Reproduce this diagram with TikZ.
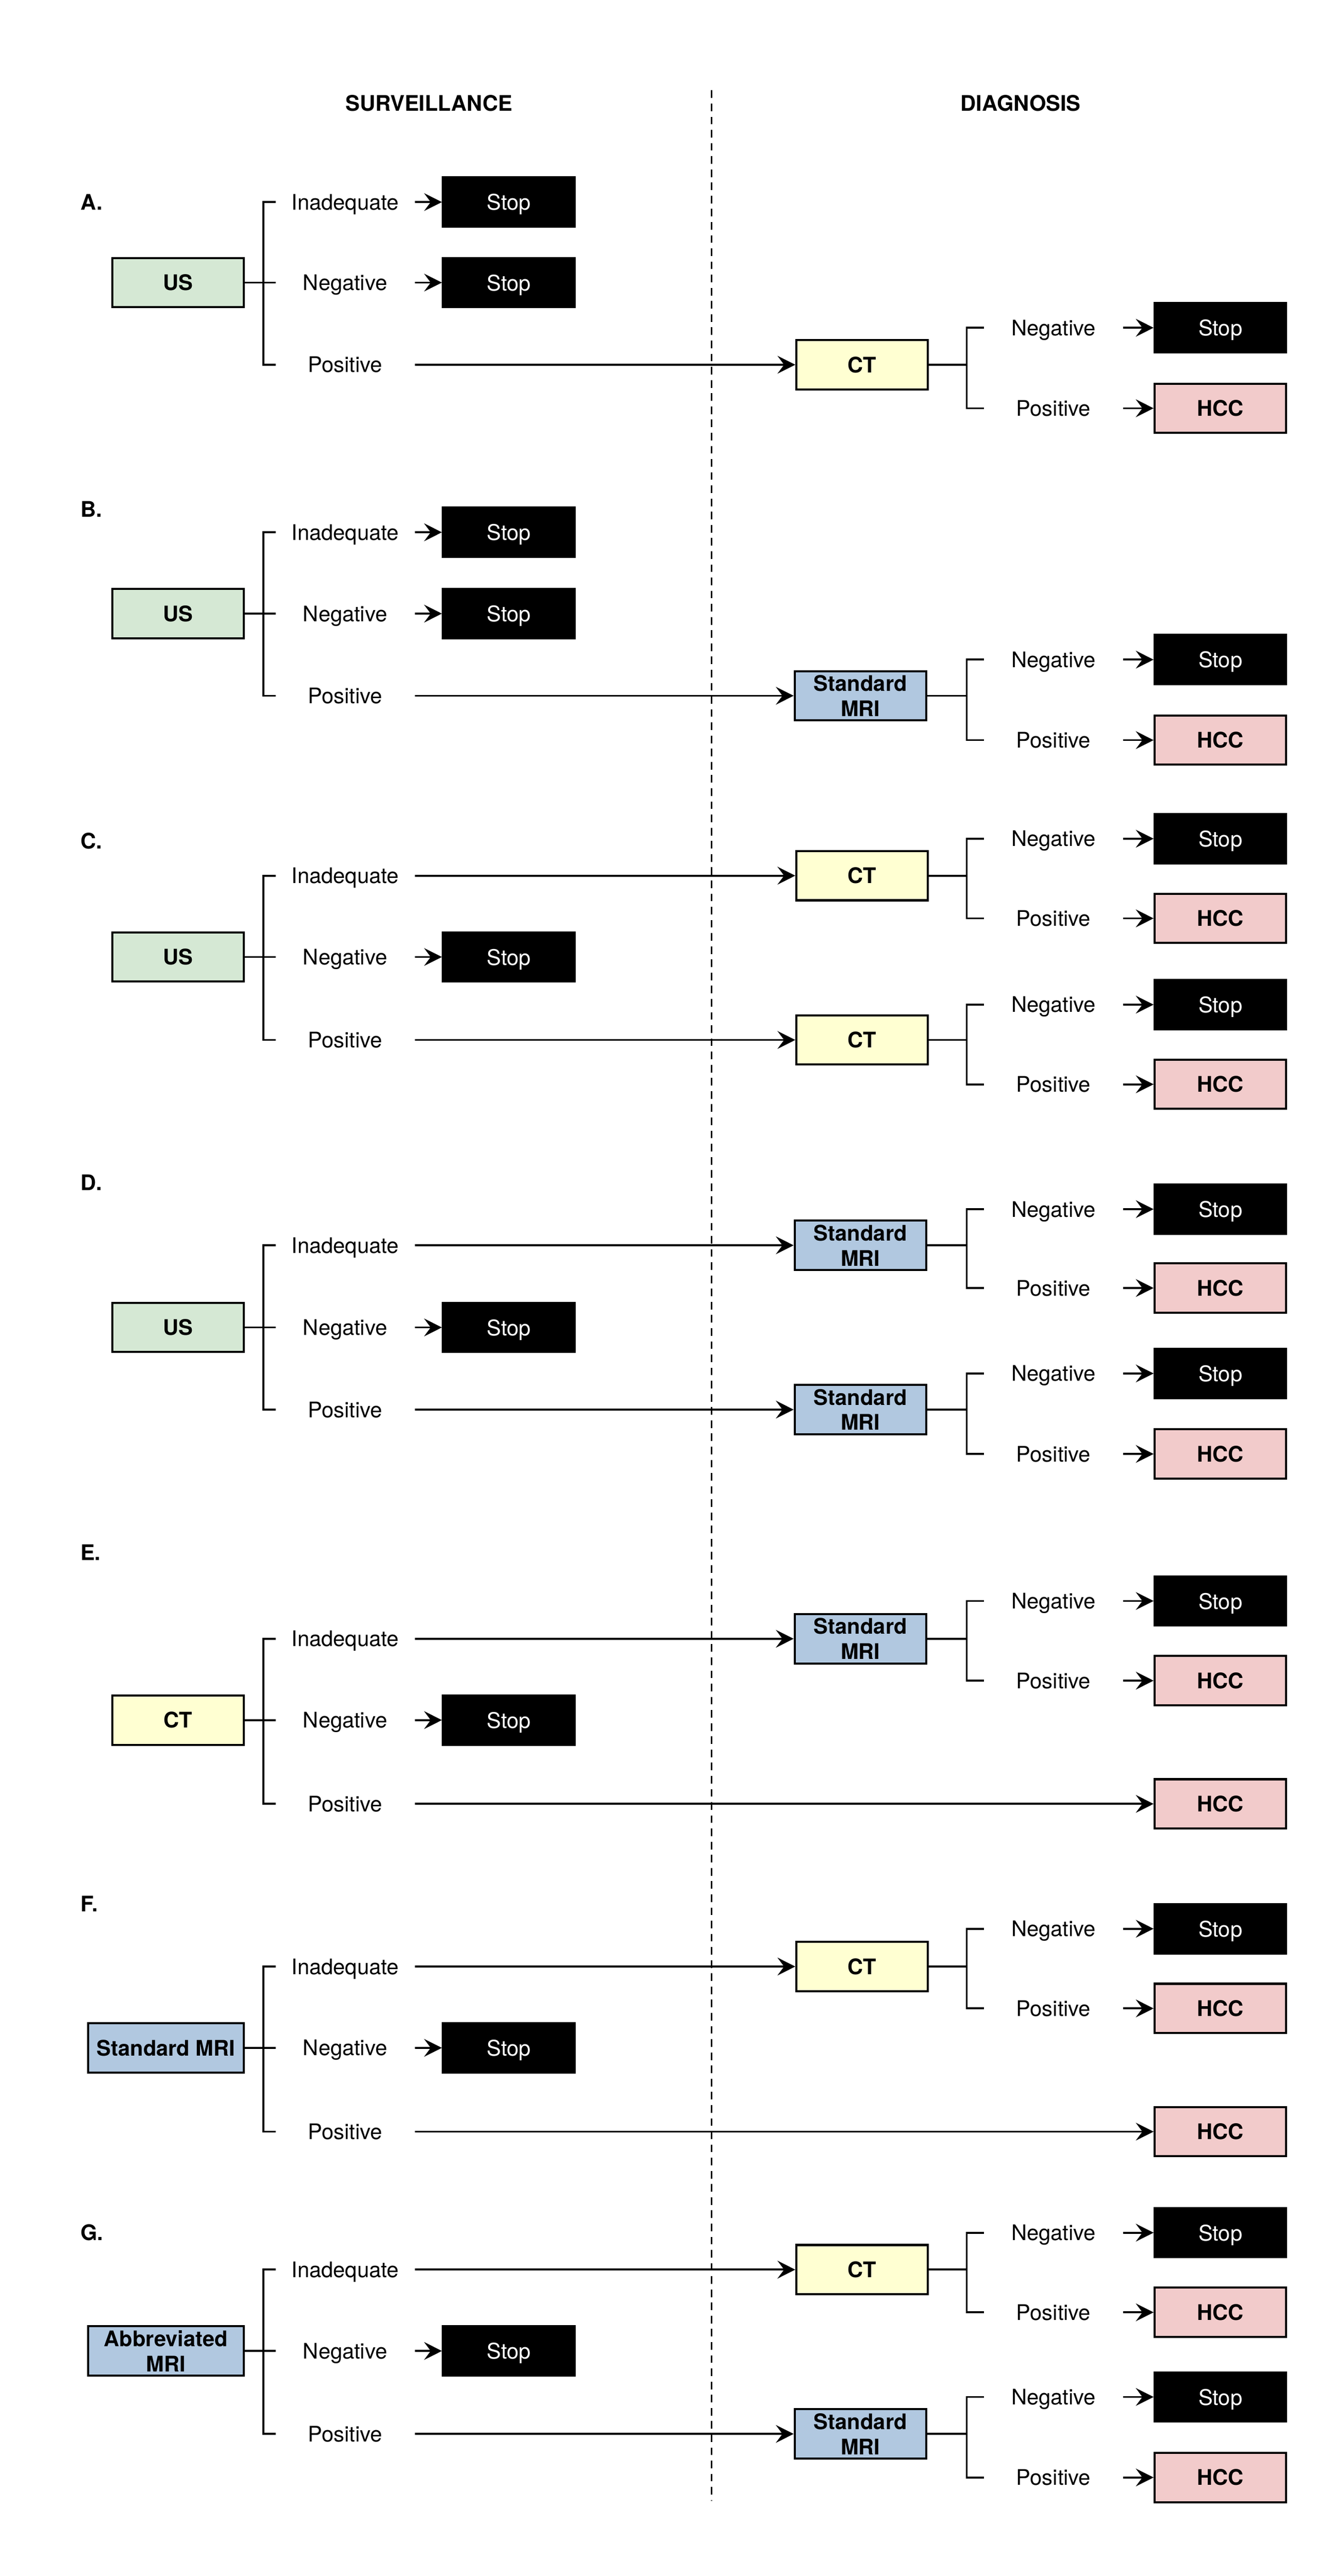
\documentclass[tikz,border=0pt]{standalone}
\usepackage{fontspec}
\setmainfont{TeX Gyre Heros}
\usetikzlibrary{arrows.meta, positioning}
\definecolor{usgreen}{HTML}{D5E8D4}
\definecolor{ctyellow}{HTML}{FFFFD2}
\definecolor{mriblue}{HTML}{B1C8E0}
\definecolor{hccpink}{HTML}{F2CBCB}
\newcommand{\figfont}{\fontsize{9.3}{10.9}\selectfont}

\begin{document}
\begin{tikzpicture}[x=0.025cm, y=-0.025cm, font=\figfont,
    box/.style={draw, line width=0.9pt, minimum width=2cm, minimum height=0.75cm, inner sep=1pt, align=center, font=\figfont\bfseries},
    usbox/.style={box, fill=usgreen, anchor=east},
    ctbox/.style={box, fill=ctyellow},
    mribox/.style={box, fill=mriblue},
    widebox/.style={minimum width=2.37cm, anchor=east},
    stopbox/.style={box, fill=black, text=white, font=\figfont, text depth=0pt},
    hccbox/.style={box, fill=hccpink},
    lbl/.style={minimum width=2.1cm, inner sep=0pt, text height=6.7pt, text depth=0pt},
    head/.style={font=\figfont\bfseries, text height=6.7pt, text depth=0pt},
    arr/.style={-{Stealth[length=2.7mm, width=2.7mm, inset=1mm]}, line width=0.85pt},
    conn/.style={line width=0.85pt}]

    \useasboundingbox (0,0) rectangle (812,1568);

    \node[head] (surv) at (261,63) {SURVEILLANCE};
    \node[head] (diag) at (621,63) {DIAGNOSIS};
    \coordinate (divtop) at (433,55);
    \coordinate (divbot) at (433,1522);
    \draw[line width=0.6pt, dash pattern=on 3.3pt off 2.4pt] (divtop) -- (divbot);

    % A
    \node[head, anchor=west] (tagA) at (44,123) {A.};
    \node[usbox] (usA) at (149,172) {US};
    \node[lbl] (inadA) at (210,123) {Inadequate};
    \node[lbl] (negA) at (210,172) {Negative};
    \node[lbl] (posA) at (210,222) {Positive};
    \node[stopbox] (stopA1) at (309.5,123) {Stop};
    \node[stopbox] (stopA2) at (309.5,172) {Stop};
    \node[ctbox] (ctA) at (524.5,222) {CT};
    \node[lbl] (dnegA) at (641,199.5) {Negative};
    \node[lbl] (dposA) at (641,248.5) {Positive};
    \node[stopbox] (dstopA) at (742.5,199.5) {Stop};
    \node[hccbox] (hccA) at (742.5,248.5) {HCC};
    \draw[conn] (usA) -- (negA);
    \draw[conn] (inadA.west) -- ++(-7.5,0) |- (posA.west);
    \draw[arr] (inadA) -- (stopA1);
    \draw[arr] (negA) -- (stopA2);
    \draw[arr] (posA) -- (ctA);
    \draw[conn] (ctA.east) -- ++(23,0) |- (dnegA.west) (ctA.east) ++(23,0) |- (dposA.west);
    \draw[arr] (dnegA) -- (dstopA);
    \draw[arr] (dposA) -- (hccA);

    % B
    \node[head, anchor=west] (tagB) at (44,310) {B.};
    \node[usbox] (usB) at (149,373.5) {US};
    \node[lbl] (inadB) at (210,324) {Inadequate};
    \node[lbl] (negB) at (210,373.5) {Negative};
    \node[lbl] (posB) at (210,423.5) {Positive};
    \node[stopbox] (stopB1) at (309.5,324) {Stop};
    \node[stopbox] (stopB2) at (309.5,373.5) {Stop};
    \node[mribox] (mriB) at (523.5,423.5) {Standard\\MRI};
    \node[lbl] (dnegB) at (641,401.5) {Negative};
    \node[lbl] (dposB) at (641,450.5) {Positive};
    \node[stopbox] (dstopB) at (742.5,401.5) {Stop};
    \node[hccbox] (hccB) at (742.5,450.5) {HCC};
    \draw[conn] (usB) -- (negB);
    \draw[conn] (inadB.west) -- ++(-7.5,0) |- (posB.west);
    \draw[arr] (inadB) -- (stopB1);
    \draw[arr] (negB) -- (stopB2);
    \draw[arr] (posB) -- (mriB);
    \draw[conn] (mriB.east) -- ++(24,0) |- (dnegB.west) (mriB.east) ++(24,0) |- (dposB.west);
    \draw[arr] (dnegB) -- (dstopB);
    \draw[arr] (dposB) -- (hccB);

    % C
    \node[head, anchor=west] (tagC) at (44,512) {C.};
    \node[usbox] (usC) at (149,582.5) {US};
    \node[lbl] (inadC) at (210,533) {Inadequate};
    \node[lbl] (negC) at (210,582.5) {Negative};
    \node[lbl] (posC) at (210,633) {Positive};
    \node[stopbox] (stopC) at (309.5,582.5) {Stop};
    \node[ctbox] (ctC1) at (524.5,533) {CT};
    \node[lbl] (dnegC1) at (641,510.5) {Negative};
    \node[lbl] (dposC1) at (641,559) {Positive};
    \node[stopbox] (dstopC1) at (742.5,510.5) {Stop};
    \node[hccbox] (hccC1) at (742.5,559) {HCC};
    \node[ctbox] (ctC2) at (524.5,633) {CT};
    \node[lbl] (dnegC2) at (641,611.5) {Negative};
    \node[lbl] (dposC2) at (641,660) {Positive};
    \node[stopbox] (dstopC2) at (742.5,611.5) {Stop};
    \node[hccbox] (hccC2) at (742.5,660) {HCC};
    \draw[conn] (usC) -- (negC);
    \draw[conn] (inadC.west) -- ++(-7.5,0) |- (posC.west);
    \draw[arr] (inadC) -- (ctC1);
    \draw[arr] (negC) -- (stopC);
    \draw[arr] (posC) -- (ctC2);
    \draw[conn] (ctC1.east) -- ++(23,0) |- (dnegC1.west) (ctC1.east) ++(23,0) |- (dposC1.west);
    \draw[conn] (ctC2.east) -- ++(23,0) |- (dnegC2.west) (ctC2.east) ++(23,0) |- (dposC2.west);
    \draw[arr] (dnegC1) -- (dstopC1);
    \draw[arr] (dposC1) -- (hccC1);
    \draw[arr] (dnegC2) -- (dstopC2);
    \draw[arr] (dposC2) -- (hccC2);

    % D
    \node[head, anchor=west] (tagD) at (44,720) {D.};
    \node[usbox] (usD) at (149,808) {US};
    \node[lbl] (inadD) at (210,758) {Inadequate};
    \node[lbl] (negD) at (210,808) {Negative};
    \node[lbl] (posD) at (210,858) {Positive};
    \node[stopbox] (stopD) at (309.5,808) {Stop};
    \node[mribox] (mriD1) at (523.5,758) {Standard\\MRI};
    \node[lbl] (dnegD1) at (641,736) {Negative};
    \node[lbl] (dposD1) at (641,784) {Positive};
    \node[stopbox] (dstopD1) at (742.5,736) {Stop};
    \node[hccbox] (hccD1) at (742.5,784) {HCC};
    \node[mribox] (mriD2) at (523.5,858) {Standard\\MRI};
    \node[lbl] (dnegD2) at (641,836) {Negative};
    \node[lbl] (dposD2) at (641,885) {Positive};
    \node[stopbox] (dstopD2) at (742.5,836) {Stop};
    \node[hccbox] (hccD2) at (742.5,885) {HCC};
    \draw[conn] (usD) -- (negD);
    \draw[conn] (inadD.west) -- ++(-7.5,0) |- (posD.west);
    \draw[arr] (inadD) -- (mriD1);
    \draw[arr] (negD) -- (stopD);
    \draw[arr] (posD) -- (mriD2);
    \draw[conn] (mriD1.east) -- ++(24,0) |- (dnegD1.west) (mriD1.east) ++(24,0) |- (dposD1.west);
    \draw[conn] (mriD2.east) -- ++(24,0) |- (dnegD2.west) (mriD2.east) ++(24,0) |- (dposD2.west);
    \draw[arr] (dnegD1) -- (dstopD1);
    \draw[arr] (dposD1) -- (hccD1);
    \draw[arr] (dnegD2) -- (dstopD2);
    \draw[arr] (dposD2) -- (hccD2);

    % E
    \node[head, anchor=west] (tagE) at (44,945) {E.};
    \node[ctbox, anchor=east] (ctE) at (149,1047) {CT};
    \node[lbl] (inadE) at (210,997.5) {Inadequate};
    \node[lbl] (negE) at (210,1047) {Negative};
    \node[lbl] (posE) at (210,1098) {Positive};
    \node[stopbox] (stopE) at (309.5,1047) {Stop};
    \node[mribox] (mriE) at (523.5,997.5) {Standard\\MRI};
    \node[lbl] (dnegE) at (641,974.5) {Negative};
    \node[lbl] (dposE) at (641,1023) {Positive};
    \node[stopbox] (dstopE) at (742.5,974.5) {Stop};
    \node[hccbox] (hccE1) at (742.5,1023) {HCC};
    \node[hccbox] (hccE2) at (742.5,1098) {HCC};
    \draw[conn] (ctE) -- (negE);
    \draw[conn] (inadE.west) -- ++(-7.5,0) |- (posE.west);
    \draw[arr] (inadE) -- (mriE);
    \draw[arr] (negE) -- (stopE);
    \draw[arr] (posE) -- (hccE2);
    \draw[conn] (mriE.east) -- ++(24,0) |- (dnegE.west) (mriE.east) ++(24,0) |- (dposE.west);
    \draw[arr] (dnegE) -- (dstopE);
    \draw[arr] (dposE) -- (hccE1);

    % F
    \node[head, anchor=west] (tagF) at (44,1159) {F.};
    \node[mribox, widebox] (mriF) at (149,1246.5) {Standard MRI};
    \node[lbl] (inadF) at (210,1197) {Inadequate};
    \node[lbl] (negF) at (210,1246.5) {Negative};
    \node[lbl] (posF) at (210,1297.5) {Positive};
    \node[stopbox] (stopF) at (309.5,1246.5) {Stop};
    \node[ctbox] (ctF) at (524.5,1197) {CT};
    \node[lbl] (dnegF) at (641,1174) {Negative};
    \node[lbl] (dposF) at (641,1222.5) {Positive};
    \node[stopbox] (dstopF) at (742.5,1174) {Stop};
    \node[hccbox] (hccF1) at (742.5,1222.5) {HCC};
    \node[hccbox] (hccF2) at (742.5,1297.5) {HCC};
    \draw[conn] (mriF) -- (negF);
    \draw[conn] (inadF.west) -- ++(-7.5,0) |- (posF.west);
    \draw[arr] (inadF) -- (ctF);
    \draw[arr] (negF) -- (stopF);
    \draw[arr] (posF) -- (hccF2);
    \draw[conn] (ctF.east) -- ++(23,0) |- (dnegF.west) (ctF.east) ++(23,0) |- (dposF.west);
    \draw[arr] (dnegF) -- (dstopF);
    \draw[arr] (dposF) -- (hccF1);

    % G
    \node[head, anchor=west] (tagG) at (44,1359) {G.};
    \node[mribox, widebox] (abbG) at (149,1431) {Abbreviated\\MRI};
    \node[lbl] (inadG) at (210,1381.5) {Inadequate};
    \node[lbl] (negG) at (210,1431) {Negative};
    \node[lbl] (posG) at (210,1481.5) {Positive};
    \node[stopbox] (stopG) at (309.5,1431) {Stop};
    \node[ctbox] (ctG) at (524.5,1381.5) {CT};
    \node[lbl] (dnegG1) at (641,1359) {Negative};
    \node[lbl] (dposG1) at (641,1407.5) {Positive};
    \node[stopbox] (dstopG1) at (742.5,1359) {Stop};
    \node[hccbox] (hccG1) at (742.5,1407.5) {HCC};
    \node[mribox] (mriG) at (523.5,1481.5) {Standard\\MRI};
    \node[lbl] (dnegG2) at (641,1459) {Negative};
    \node[lbl] (dposG2) at (641,1508) {Positive};
    \node[stopbox] (dstopG2) at (742.5,1459) {Stop};
    \node[hccbox] (hccG2) at (742.5,1508) {HCC};
    \draw[conn] (abbG) -- (negG);
    \draw[conn] (inadG.west) -- ++(-7.5,0) |- (posG.west);
    \draw[arr] (inadG) -- (ctG);
    \draw[arr] (negG) -- (stopG);
    \draw[arr] (posG) -- (mriG);
    \draw[conn] (ctG.east) -- ++(23,0) |- (dnegG1.west) (ctG.east) ++(23,0) |- (dposG1.west);
    \draw[conn] (mriG.east) -- ++(24,0) |- (dnegG2.west) (mriG.east) ++(24,0) |- (dposG2.west);
    \draw[arr] (dnegG1) -- (dstopG1);
    \draw[arr] (dposG1) -- (hccG1);
    \draw[arr] (dnegG2) -- (dstopG2);
    \draw[arr] (dposG2) -- (hccG2);
\end{tikzpicture}
\end{document}
